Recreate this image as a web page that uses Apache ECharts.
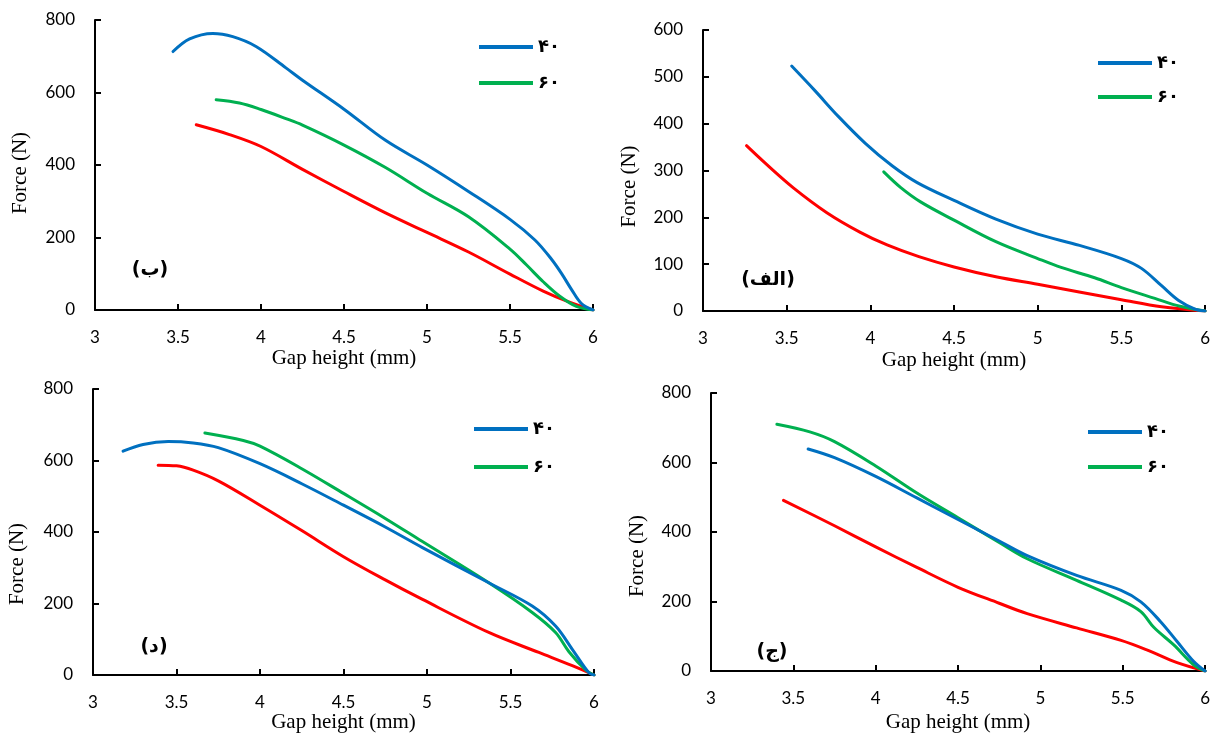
<!DOCTYPE html>
<html><head><meta charset="utf-8">
<script src="https://cdn.jsdelivr.net/npm/echarts@6/dist/echarts.min.js"></script>
<style>html,body{margin:0;padding:0;background:#fff}#c{width:1213px;height:734px}</style>
</head><body><div id="c"></div>
<script>
// Series names (legend) and panel labels
const names = ['۴۰', '۶۰', '۲۰'];
const panelLabels = ['(ب)', '(الف)', '(د)', '(ج)'];
const xTitle = 'Gap height (mm)';
const yTitle = 'Force (N)';
const yMax = [800, 600, 800, 800];
const yStep = [200, 100, 200, 200];

// Panel ب (top-left)
const xB40 = [3.47, 3.57, 3.71, 3.83, 3.97, 4.15, 4.25, 4.5, 4.75, 5.0, 5.25, 5.5, 5.65, 5.75, 5.81, 5.87, 5.93, 6.0];
const yB40 = [713, 748, 763, 754, 727, 668, 634, 554, 468, 400, 327, 250, 193, 140, 101, 57, 18, 0];
const xB60 = [3.73, 3.87, 4.0, 4.15, 4.25, 4.5, 4.75, 5.0, 5.25, 5.5, 5.6, 5.7, 5.8, 5.9, 6.0];
const yB60 = [580, 571, 553, 528, 510, 455, 393, 322, 257, 168, 124, 78, 38, 10, 0];
const xBr = [3.61, 3.81, 4.0, 4.25, 4.5, 4.75, 5.0, 5.25, 5.5, 5.7, 5.85, 6.0];
const yBr = [511, 484, 451, 388, 327, 268, 214, 160, 99, 52, 23, 0];

// Panel الف (top-right)
const xA40 = [3.53, 3.67, 3.81, 3.97, 4.13, 4.28, 4.5, 4.75, 5.0, 5.25, 5.5, 5.62, 5.74, 5.84, 5.94, 6.0];
const yA40 = [523, 470, 415, 358, 310, 274, 236, 196, 164, 140, 112, 91, 54, 23, 4, 0];
const xA60 = [4.08, 4.18, 4.3, 4.5, 4.75, 5.0, 5.14, 5.34, 5.5, 5.7, 5.85, 6.0];
const yA60 = [297, 264, 233, 194, 148, 112, 93, 71, 50, 27, 10, 0];
const xAr = [3.26, 3.38, 3.54, 3.74, 3.94, 4.1, 4.29, 4.5, 4.75, 5.0, 5.24, 5.5, 5.74, 6.0];
const yAr = [353, 313, 263, 210, 168, 141, 116, 94, 73, 57, 41, 24, 9, 0];

// Panel د (bottom-left)
const xD40 = [3.18, 3.3, 3.45, 3.6, 3.75, 4.0, 4.25, 4.5, 4.75, 4.97, 5.37, 5.63, 5.77, 5.87, 5.97, 6.0];
const yD40 = [626, 645, 653, 649, 636, 591, 535, 475, 414, 357, 258, 193, 137, 72, 6, 0];
const xD60 = [3.67, 3.9, 4.0, 4.25, 4.5, 4.75, 4.97, 5.37, 5.63, 5.77, 5.85, 5.95, 6.0];
const yD60 = [677, 656, 640, 577, 508, 438, 374, 258, 175, 119, 65, 14, 0];
const xDr = [3.39, 3.5, 3.6, 3.75, 4.0, 4.25, 4.5, 4.75, 4.97, 5.37, 5.67, 5.87, 6.0];
const yDr = [587, 585, 573, 543, 475, 404, 331, 266, 212, 119, 63, 26, 0];

// Panel ج (bottom-right)
const xJ40 = [3.59, 3.75, 4.0, 4.25, 4.5, 4.75, 4.92, 5.22, 5.49, 5.61, 5.73, 5.83, 5.93, 6.0];
const yJ40 = [639, 614, 560, 498, 436, 374, 332, 275, 232, 199, 142, 85, 28, 0];
const xJ60 = [3.40, 3.6, 3.75, 4.0, 4.25, 4.5, 4.75, 4.92, 5.22, 5.49, 5.61, 5.69, 5.81, 5.93, 6.0];
const yJ60 = [710, 688, 660, 590, 512, 441, 370, 323, 261, 204, 171, 125, 75, 18, 0];
const xJr = [3.44, 3.75, 4.0, 4.25, 4.5, 4.75, 4.92, 5.22, 5.49, 5.65, 5.83, 6.0];
const yJr = [491, 418, 357, 298, 241, 195, 165, 124, 88, 60, 24, 0];

const panels = [
  [[xB40, yB40], [xB60, yB60], [xBr, yBr]],
  [[xA40, yA40], [xA60, yA60], [xAr, yAr]],
  [[xD40, yD40], [xD60, yD60], [xDr, yDr]],
  [[xJ40, yJ40], [xJ60, yJ60], [xJr, yJr]]
];
const colors = ['#0070C0', '#00B050', '#FF0000'];

const grids = [
  {left: 95, top: 20, width: 498, height: 290},
  {left: 703, top: 30, width: 503, height: 281},
  {left: 93, top: 389, width: 501, height: 287},
  {left: 711, top: 393, width: 495, height: 280}
];
const yNamePad = [[0, 16, 0, 0], [0, 32, 0, 0], [0, 64, 0, 0], [0, 48, 0, 0]];
const yNameGap = [64, 63, 65, 63];
const xNameGap = [38, 39, 37, 41];
const legendPos = [
  {left: 479, top: 36, itemGap: 14},
  {left: 1098, top: 52, itemGap: 12},
  {left: 474, top: 418, itemGap: 16},
  {left: 1088, top: 421, itemGap: 13}
];
const labelPos = [[150, 270], [768, 280], [154, 647], [772, 652]];

const tickFont = {color: '#000', fontSize: 17, fontFamily: 'Lato, "Open Sans", sans-serif'};
const titleFont = {color: '#000', fontSize: 21, fontFamily: '"Liberation Serif", "Times New Roman", serif'};
const axisLine = {show: true, onZero: false, lineStyle: {color: '#000', width: 2}};
const axisTick = {show: true, inside: true, length: 6, lineStyle: {color: '#000', width: 2}};

const xAxis = [], yAxis = [], series = [], legend = [], graphic = [];
panels.forEach((p, i) => {
  xAxis.push({
    type: 'value', gridIndex: i, min: 3, max: 6, interval: 0.5,
    name: xTitle, nameLocation: 'middle', nameGap: xNameGap[i], nameTextStyle: titleFont,
    axisLine, axisTick, splitLine: {show: false},
    axisLabel: Object.assign({margin: 19}, tickFont)
  });
  yAxis.push({
    type: 'value', gridIndex: i, min: 0, max: yMax[i], interval: yStep[i],
    name: yTitle, nameLocation: 'middle', nameGap: yNameGap[i],
    nameTextStyle: Object.assign({padding: yNamePad[i]}, titleFont),
    axisLine, axisTick, splitLine: {show: false},
    axisLabel: Object.assign({margin: 20}, tickFont)
  });
  p.forEach((s, k) => {
    series.push({
      type: 'line', name: names[k], xAxisIndex: i, yAxisIndex: i,
      data: s[0].map((x, j) => [x, s[1][j]]),
      smooth: 0.35, showSymbol: false, symbol: 'none',
      color: colors[k],
      lineStyle: {color: colors[k], width: 3, cap: 'round', join: 'round'},
      z: 3 - k
    });
  });
  legend.push({
    data: [names[0], names[1]], orient: 'vertical',
    left: legendPos[i].left, top: legendPos[i].top, itemGap: legendPos[i].itemGap,
    icon: 'rect', itemWidth: 54, itemHeight: 4, itemStyle: {borderWidth: 0},
    padding: 0, selectedMode: false,
    textStyle: {color: '#000', fontSize: 18, lineHeight: 22, fontWeight: 'bold', fontFamily: '"DejaVu Sans", sans-serif'}
  });
  graphic.push({
    type: 'text', x: labelPos[i][0], y: labelPos[i][1],
    style: {text: panelLabels[i], fill: '#000', align: 'center', verticalAlign: 'middle',
            font: 'bold 19px "DejaVu Sans", sans-serif'}
  });
});

const chart = echarts.init(document.getElementById('c'), null, {renderer: 'canvas'});
chart.setOption({
  animation: false,
  backgroundColor: '#fff',
  grid: grids,
  xAxis, yAxis, series, legend, graphic
});
</script></body></html>
